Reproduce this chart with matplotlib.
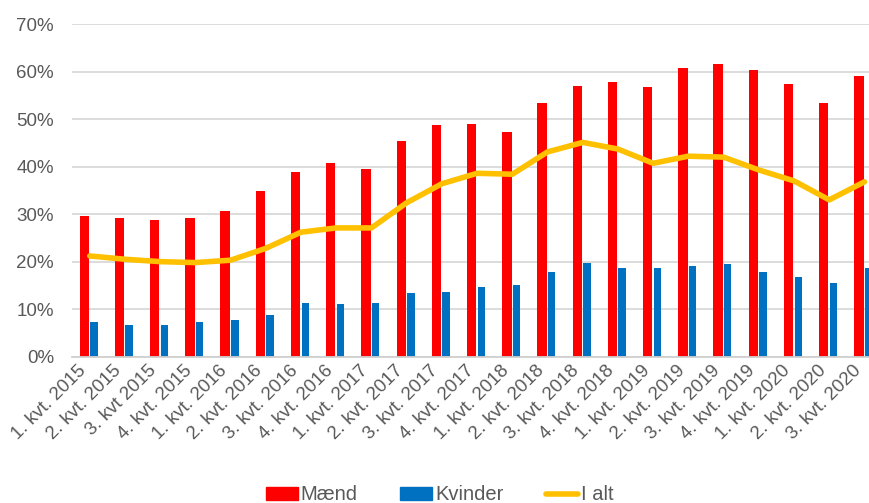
import matplotlib
matplotlib.use("Agg")
import matplotlib.pyplot as plt
import numpy as np
from matplotlib.ticker import PercentFormatter
from matplotlib.patches import Patch
from matplotlib.lines import Line2D

categories = ["1. kvt. 2015", "2. kvt. 2015", "3. kvt 2015", "4. kvt. 2015",
              "1. kvt. 2016", "2. kvt. 2016", "3. kvt. 2016", "4. kvt. 2016",
              "1. kvt. 2017", "2. kvt. 2017", "3. kvt. 2017", "4. kvt. 2017",
              "1. kvt. 2018", "2. kvt. 2018", "3. kvt. 2018", "4. kvt. 2018",
              "1. kvt. 2019", "2. kvt. 2019", "3. kvt. 2019", "4. kvt. 2019",
              "1. kvt. 2020", "2. kvt. 2020", "3. kvt. 2020"]
maend = [29.6, 29.1, 28.8, 29.1, 30.6, 34.8, 38.9, 40.7, 39.4, 45.4, 48.7, 49.0,
         47.2, 53.4, 57.0, 57.8, 56.7, 60.7, 61.7, 60.4, 57.5, 53.4, 59.0]
kvinder = [7.2, 6.7, 6.7, 7.2, 7.7, 8.8, 11.3, 11.1, 11.3, 13.4, 13.7, 14.7,
           15.0, 17.8, 19.8, 18.6, 18.6, 19.1, 19.6, 17.8, 16.8, 15.5, 18.6]
i_alt = [21.2, 20.5, 20.0, 19.8, 20.3, 22.8, 26.2, 27.1, 27.1, 32.4, 36.4, 38.6,
         38.4, 43.1, 45.1, 43.7, 40.7, 42.2, 42.0, 39.3, 37.0, 33.0, 36.8]
series_names = ["Mænd", "Kvinder", "I alt"]

plt.rcParams['font.family'] = ['Liberation Sans', 'DejaVu Sans']
fig = plt.figure(figsize=(8.69, 5.03), dpi=100)
ax = fig.add_axes([0.083, 0.291, 0.932, 0.661])

x = np.arange(len(categories))
ax.bar(x - 0.155, maend, width=0.265, color="#FF0000", zorder=2)
ax.bar(x + 0.12, kvinder, width=0.21, color="#0070C0", zorder=2)
ax.plot(x, i_alt, color="#FFC000", lw=4.0, solid_joinstyle="round",
        solid_capstyle="round", zorder=3)

ax.set_xlim(-0.5, len(categories) - 0.5)
ax.set_ylim(0, 70)
ax.set_yticks(np.arange(0, 71, 10))
ax.yaxis.set_major_formatter(PercentFormatter(decimals=0))
ax.grid(axis="y", color="#D9D9D9", lw=1.3, zorder=0)
ax.set_axisbelow(True)
for s in ["top", "right", "left"]:
    ax.spines[s].set_visible(False)
ax.spines["bottom"].set_color("#D0D0D0")
ax.spines["bottom"].set_linewidth(1.3)
ax.tick_params(axis="both", length=0, labelsize=13.5, colors="#595959")
ax.tick_params(axis="y", pad=13)
ax.set_xticks(x)
ax.set_xticklabels(categories, rotation=45, ha="right", va="top",
                   rotation_mode="default")
ax.tick_params(axis="x", pad=4)

handles = [Patch(color="#FF0000"), Patch(color="#0070C0"),
           Line2D([0], [0], color="#FFC000", lw=4.0, solid_capstyle="round")]
fig.legend(handles, series_names, loc="center", bbox_to_anchor=(0.506, 0.016),
           ncol=3, frameon=False, fontsize=14.5, labelcolor="#595959",
           handlelength=1.6, handleheight=0.6, handletextpad=0.15, columnspacing=2.1)

fig.savefig("out.png", dpi=100)
